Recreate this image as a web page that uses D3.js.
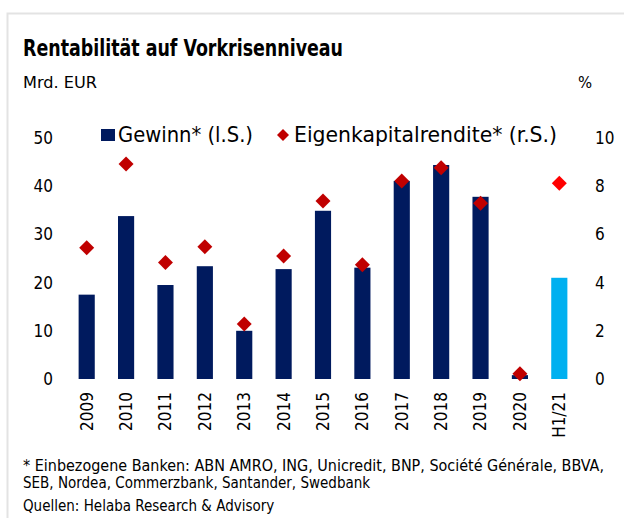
<!DOCTYPE html>
<html>
<head>
<meta charset="utf-8">
<script src="https://cdn.jsdelivr.net/npm/d3@7"></script>
<style>
  body { margin: 0; background: #fff; }
  svg { display: block; }
</style>
</head>
<body>
<div id="chart"></div>
<script>
// ---- Data ----
const categories = ["2009", "2010", "2011", "2012", "2013", "2014", "2015", "2016", "2017", "2018", "2019", "2020", "H1/21"];
const gewinn     = [17.5, 33.8, 19.5, 23.4, 10.0, 22.8, 34.9, 23.1, 41.1, 44.4, 37.8, 0.8, 21.0];   // Mrd. EUR, left axis
const roe        = [5.45, 8.92, 4.83, 5.49, 2.28, 5.10, 7.39, 4.74, 8.22, 8.77, 7.29, 0.22, 8.12]; // %, right axis
const leftTicks  = [0, 10, 20, 30, 40, 50];
const rightTicks = [0, 2, 4, 6, 8, 10];
const footnotes  = [
  "* Einbezogene Banken: ABN AMRO, ING, Unicredit, BNP, Société Générale, BBVA,",
  "SEB, Nordea, Commerzbank, Santander, Swedbank",
  "Quellen: Helaba Research & Advisory"
];

const W = 624, H = 518;
// the original uses a narrow humanist face; DejaVu Sans Condensed is the closest installed
const FONT = "'DejaVu Sans Condensed', 'Open Sans', sans-serif";
const NAVY = "#001A5E", LIGHT = "#00B0F0", RED = "#C00000", BRIGHT_RED = "#FF0000";

const svg = d3.select("#chart").append("svg")
  .attr("width", W).attr("height", H)
  .style("font-family", FONT);

// card frame (light grey border on left / top)
svg.append("rect")
  .attr("x", 7.5).attr("y", 13.5)
  .attr("width", W + 10).attr("height", H + 10)
  .attr("fill", "#fff").attr("stroke", "#e3e3e3").attr("stroke-width", 2);

// ---- Titles ----
svg.append("text").attr("x", 23).attr("y", 56)
  .attr("font-size", 23).attr("font-weight", 700).attr("fill", "#000")
  .attr("textLength", 320).attr("lengthAdjust", "spacingAndGlyphs")
  .text("Rentabilität auf Vorkrisenniveau");
svg.append("text").attr("x", 23).attr("y", 88)
  .attr("font-size", 16.5).attr("fill", "#000")
  .attr("textLength", 74).attr("lengthAdjust", "spacingAndGlyphs")
  .text("Mrd. EUR");
svg.append("text").attr("x", 578).attr("y", 88)
  .attr("font-size", 16.5).attr("fill", "#000").text("%");

// ---- Scales ----
const x = d3.scaleBand()
  .domain(categories)
  .range([67, 579])
  .paddingInner(0.59)
  .paddingOuter(0.295);

const yL = d3.scaleLinear().domain([0, 50]).range([379, 138]);
const yR = d3.scaleLinear().domain([0, 10]).range([379, 138]);

// ---- Axes (labels only, no lines) ----
const axisL = svg.append("g").attr("transform", "translate(53,0)")
  .call(d3.axisLeft(yL).tickValues(leftTicks).tickSize(0).tickPadding(0));
const axisR = svg.append("g").attr("transform", "translate(595,0)")
  .call(d3.axisRight(yR).tickValues(rightTicks).tickSize(0).tickPadding(0));
const axisX = svg.append("g").attr("transform", "translate(0,392)")
  .call(d3.axisBottom(x).tickSize(0).tickPadding(0));

[axisL, axisR, axisX].forEach(a => {
  a.select(".domain").remove();
  a.selectAll("text").attr("font-family", FONT).attr("font-size", 17).attr("fill", "#000");
});
axisX.selectAll("text")
  .attr("transform", "rotate(-90)")
  .attr("text-anchor", "end")
  .attr("x", 0).attr("y", 0).attr("dx", 0).attr("dy", "0.35em");

// ---- Bars ----
svg.append("g").selectAll("rect")
  .data(categories)
  .join("rect")
  .attr("x", d => x(d))
  .attr("width", x.bandwidth())
  .attr("y", (d, i) => yL(gewinn[i]))
  .attr("height", (d, i) => yL(0) - yL(gewinn[i]))
  .attr("fill", d => d === "H1/21" ? LIGHT : NAVY);

// ---- Diamonds (ROE, right axis) ----
const diamond = d3.symbol().type(d3.symbolSquare).size(112);
svg.append("g").selectAll("path")
  .data(categories)
  .join("path")
  .attr("d", diamond)
  .attr("transform", (d, i) => `translate(${x(d) + x.bandwidth() / 2},${yR(roe[i])}) rotate(45)`)
  .attr("fill", d => d === "H1/21" ? BRIGHT_RED : RED);

// ---- Legend ----
const lg = svg.append("g");
lg.append("rect").attr("x", 101).attr("y", 129).attr("width", 14).attr("height", 12).attr("fill", NAVY);
lg.append("text").attr("x", 118).attr("y", 142)
  .attr("font-size", 22).attr("fill", "#000")
  .attr("textLength", 135).attr("lengthAdjust", "spacingAndGlyphs")
  .text("Gewinn* (l.S.)");
lg.append("path")
  .attr("d", d3.symbol().type(d3.symbolSquare).size(72))
  .attr("transform", "translate(283,135) rotate(45)")
  .attr("fill", RED);
lg.append("text").attr("x", 294).attr("y", 142)
  .attr("font-size", 22).attr("fill", "#000")
  .attr("textLength", 263).attr("lengthAdjust", "spacingAndGlyphs")
  .text("Eigenkapitalrendite* (r.S.)");

// ---- Footnotes ----
const foot = svg.append("g");
foot.append("text").attr("x", 23).attr("y", 471)
  .attr("font-size", 15.5).attr("fill", "#000")
  .attr("textLength", 581).attr("lengthAdjust", "spacingAndGlyphs")
  .text(footnotes[0]);
foot.append("text").attr("x", 23).attr("y", 488)
  .attr("font-size", 15).attr("fill", "#000")
  .text(footnotes[1]);
foot.append("text").attr("x", 23).attr("y", 511)
  .attr("font-size", 15).attr("fill", "#000")
  .text(footnotes[2]);
</script>
</body>
</html>
